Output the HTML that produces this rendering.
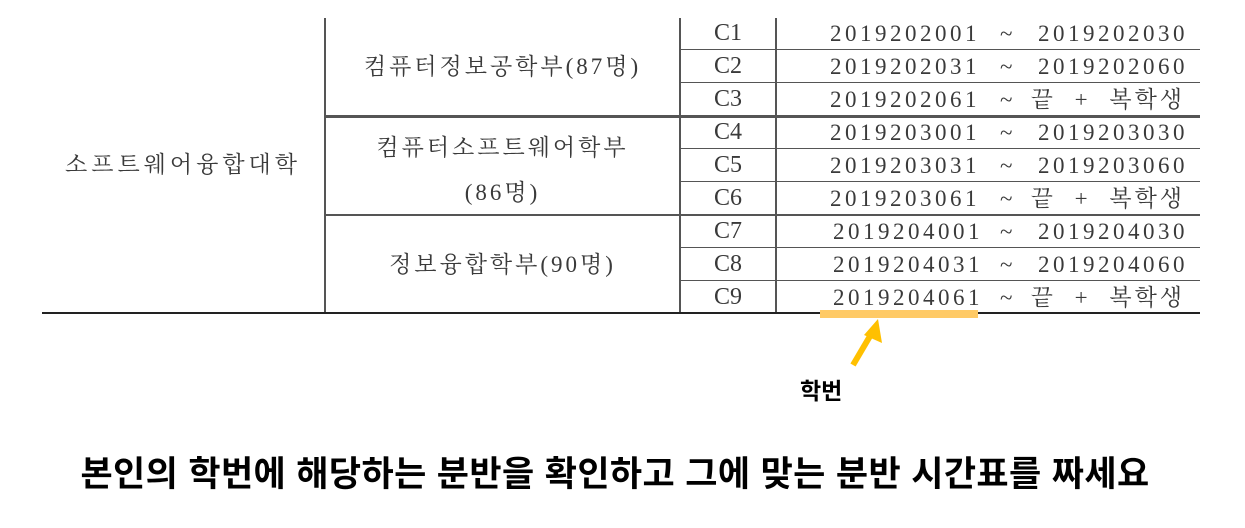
<!DOCTYPE html>
<html><head><meta charset="utf-8"><style>
body{margin:0;width:1245px;height:528px;background:#fff;position:relative;overflow:hidden;font-family:"Liberation Serif","Noto Serif CJK KR","Noto Serif CJK SC",serif;color:#3a3a3a}
.a{position:absolute}
.h{position:absolute;height:2px;background:#555}
.v{position:absolute;width:2px;background:#555}
.t{position:absolute;font-size:23px;line-height:33px;white-space:nowrap;text-align:center}
.b{font-family:"Liberation Sans","Noto Sans CJK KR",sans-serif;font-weight:bold;color:#000}
.num{letter-spacing:3.5px}
</style></head><body>
<div>
<div class="v" style="left:324px;top:18px;height:296px"></div>
<div class="v" style="left:679px;top:18px;height:296px"></div>
<div class="v" style="left:775px;top:18px;height:296px"></div>
<div class="h" style="left:680px;top:49px;width:520px;height:1px"></div>
<div class="h" style="left:680px;top:82px;width:520px;height:1px"></div>
<div class="h" style="left:325px;top:115px;width:875px;height:3px"></div>
<div class="h" style="left:680px;top:148px;width:520px;height:1px"></div>
<div class="h" style="left:680px;top:181px;width:520px;height:1px"></div>
<div class="h" style="left:325px;top:214px;width:875px;height:2px"></div>
<div class="h" style="left:680px;top:247px;width:520px;height:1px"></div>
<div class="h" style="left:680px;top:280px;width:520px;height:1px"></div>
<div class="h" style="left:42px;top:312px;width:1158px;background:#222"></div>

<div class="t" style="left:42px;width:282px;top:148px;letter-spacing:4px">소프트웨어융합대학</div>
<div class="t" style="left:326px;width:353px;top:50px;letter-spacing:3px">컴퓨터정보공학부(87명)</div>
<div class="t" style="left:326px;width:353px;top:125px;line-height:45px;letter-spacing:3px">컴퓨터소프트웨어학부<br>(86명)</div>
<div class="t" style="left:326px;width:353px;top:248px;letter-spacing:3px">정보융합학부(90명)</div>

<div id="rows"></div>
</div>

<div class="a" style="left:820px;top:310px;width:158px;height:8px;background:#ffca66"></div>
<svg class="a" style="left:840px;top:315px" width="60" height="60">
<line x1="13" y1="50" x2="33" y2="16" stroke="#ffc000" stroke-width="6"/>
<polygon points="38,4 42,28 24,20" fill="#ffc000"/>
</svg>
<div class="a b" style="left:800px;top:372px;font-size:23px">학번</div>
<div class="a b" style="left:0;width:1230px;top:446px;text-align:center;font-size:35px;letter-spacing:0.4px">본인의 학번에 해당하는 분반을 확인하고 그에 맞는 분반 시간표를 짜세요</div>

<script>
const classes=["C1","C2","C3","C4","C5","C6","C7","C8","C9"];
const starts=["2019202001","2019202031","2019202061","2019203001","2019203031","2019203061","2019204001","2019204031","2019204061"];
const ends=["2019202030","2019202060","끝 + 복학생","2019203030","2019203060","끝 + 복학생","2019204030","2019204060","끝 + 복학생"];
const host=document.getElementById('rows');
classes.forEach((c,i)=>{
  const top=17+i*33;
  const a=document.createElement('div');
  a.className='t';a.style.cssText=`left:680px;width:96px;top:${top}px;font-size:24px`;a.textContent=c;
  
  
  host.appendChild(a);
  const s=document.createElement('div');
  s.className='t num';s.style.cssText=`left:${i>=6?833:830}px;top:${top}px;text-align:left`;s.textContent=starts[i];
  
  
  host.appendChild(s);
  const tl=document.createElement('div');
  tl.className='t';tl.style.cssText=`left:${i>=6?1000:1000}px;top:${top}px`;tl.textContent='~';
  
  
  host.appendChild(tl);
  const e=document.createElement('div');
  const isEnd=ends[i].indexOf('끝')>=0;
  e.className='t'+(isEnd?'':' num');
  e.style.cssText=`right:${isEnd?60:57}px;top:${top}px;text-align:right;white-space:pre;${isEnd?'letter-spacing:3px;word-spacing:10px':''}`;
  e.textContent=ends[i];
  
  
  host.appendChild(e);
});
</script>
</body></html>
